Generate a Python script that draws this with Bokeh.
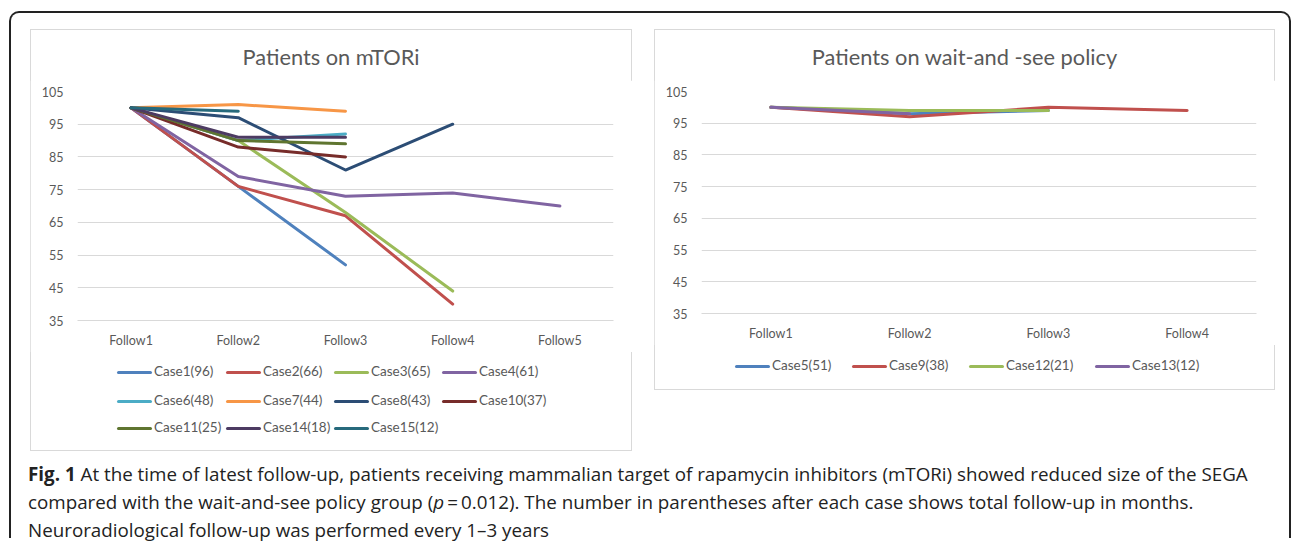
from bokeh.plotting import figure
from bokeh.models import FactorRange, Range1d, FixedTicker, Div
from bokeh.layouts import row, column
from bokeh.embed import file_html
from bokeh.resources import INLINE

# ---------------- data ----------------
left_title = "Patients on mTORi"
right_title = "Patients on wait-and -see policy"
left_cats = ["Follow1", "Follow2", "Follow3", "Follow4", "Follow5"]
right_cats = ["Follow1", "Follow2", "Follow3", "Follow4"]
y_ticks = [35, 45, 55, 65, 75, 85, 95, 105]

left_names = ["Case1(96)", "Case2(66)", "Case3(65)", "Case4(61)", "Case6(48)", "Case7(44)",
              "Case8(43)", "Case10(37)", "Case11(25)", "Case14(18)", "Case15(12)"]
case1 = [100, 76, 52]
case2 = [100, 76, 67, 40]
case3 = [100, 90, 68, 44]
case4 = [100, 79, 73, 74, 70]
case6 = [100, 90, 92]
case7 = [100, 101, 99]
case8 = [100, 97, 81, 95]
case10 = [100, 88, 85]
case11 = [100, 90, 89]
case14 = [100, 91, 91]
case15 = [100, 99]
left_values = [case1, case2, case3, case4, case6, case7, case8, case10, case11, case14, case15]
left_colors = ["#4F81BD", "#C0504D", "#9BBB59", "#8064A2", "#4BACC6", "#F79646",
               "#2C4D75", "#772C2A", "#5F7530", "#4D3B62", "#276A7C"]

right_names = ["Case5(51)", "Case9(38)", "Case12(21)", "Case13(12)"]
case5 = [100, 98, 99]
case9 = [100, 97, 100, 99]
case12 = [100, 99, 99]
case13 = [100, 98]
right_values = [case5, case9, case12, case13]
right_colors = ["#4F81BD", "#C0504D", "#9BBB59", "#8064A2"]

caption_lines = [
    "<b>Fig. 1</b> At the time of latest follow-up, patients receiving mammalian target of "
    "rapamycin inhibitors (mTORi) showed reduced size of the SEGA",
    "compared with the wait-and-see policy group (<i>p</i>&#8201;=&#8201;0.012). The number in "
    "parentheses after each case shows total follow-up in months.",
    "Neuroradiological follow-up was performed every 1–3 years",
]

FONT = "Lato"
TXT = "#595959"
GRID = "#D9D9D9"

# common plot borders (identical for both panels so row alignment is neutral)
BL, BR, BT, BB = 47, 19, 11, 32


def make_plot(cats, names, values, colors, W, frame_h):
    p = figure(x_range=FactorRange(*cats), y_range=Range1d(35, 105),
               width=W, height=BT + frame_h + BB, output_backend="svg", toolbar_location=None,
               min_border_left=BL, min_border_right=BR, min_border_top=BT, min_border_bottom=BB,
               margin=0)
    p.outline_line_color = None
    p.background_fill_color = "white"
    p.border_fill_color = "white"
    p.xgrid.grid_line_color = None
    p.ygrid.grid_line_color = GRID
    p.ygrid.ticker = FixedTicker(ticks=y_ticks)
    p.yaxis.ticker = FixedTicker(ticks=y_ticks)
    for ax in (p.xaxis[0], p.yaxis[0]):
        ax.major_tick_line_color = None
        ax.minor_tick_line_color = None
        ax.major_tick_out = 0
        ax.major_tick_in = 0
        ax.major_label_text_font = FONT
        ax.major_label_text_font_size = "12.5px"
        ax.major_label_text_color = TXT
    p.yaxis.axis_line_color = None
    p.yaxis.major_label_standoff = 14
    p.xaxis.axis_line_color = GRID
    p.xaxis.major_label_standoff = 12
    for vals, col in zip(values, colors):
        p.line(x=cats[:len(vals)], y=vals, line_color=col, line_width=3,
               line_join="round", line_cap="round")
    return p


def title_div(text, W):
    html = (f'<div style="width:{W}px;text-align:center;padding-top:16px;line-height:24px;'
            f'font-family:{FONT};font-size:21.8px;color:{TXT};white-space:nowrap">{text}</div>')
    return Div(text=html, width=W, height=51, margin=0)


def legend_div(names, colors, xs, ys, W, H):
    parts = []
    for i, (n, c) in enumerate(zip(names, colors)):
        x = xs[i % len(xs)]
        y = ys[i // len(xs)]
        parts.append(
            f'<div style="position:absolute;left:{x}px;top:{y - 12}px;height:24px;display:flex;'
            f'align-items:center;white-space:nowrap">'
            f'<span style="display:inline-block;width:35px;height:3px;background:{c};'
            f'margin-right:2px;border-radius:1.5px"></span><span>{n}</span></div>')
    html = (f'<div style="position:relative;width:{W}px;height:{H}px;font-family:{FONT};'
            f'font-size:13.5px;color:{TXT}">' + "".join(parts) + '</div>')
    return Div(text=html, width=W, height=H, margin=0)


p1 = make_plot(left_cats, left_names, left_values, left_colors, 602, 229)
p2 = make_plot(right_cats, right_names, right_values, right_colors, 621, 222)

left_panel = column(title_div(left_title, 602), p1,
                    legend_div(left_names, left_colors, [87, 196, 304, 412], [20, 49, 76], 602, 99),
                    spacing=0, margin=(16, 0, 0, 19),
                    styles={"outline": "1px solid #D9D9D9", "outline-offset": "-1px"})
right_panel = column(title_div(right_title, 621), p2,
                     legend_div(right_names, right_colors, [81, 198, 315, 441], [21], 621, 45),
                     spacing=0, margin=(16, 14, 0, 22),
                     styles={"outline": "1px solid #D9D9D9", "outline-offset": "-1px"})

cap = Div(text="<br>".join(caption_lines), width=1250, height=78, margin=(9, 0, 0, 17),
          styles={"font-family": "Open Sans", "font-size": "18.8px", "line-height": "28px",
                  "color": "#222222", "overflow": "visible", "white-space": "nowrap"})

root = column(row(left_panel, right_panel, spacing=0), cap, spacing=0, margin=(11, 0, 0, 9),
              styles={"border": "2px solid #222222", "border-bottom": "none",
                      "border-radius": "10px 10px 0 0"})

open("out.html", "w").write(file_html(root, INLINE))
